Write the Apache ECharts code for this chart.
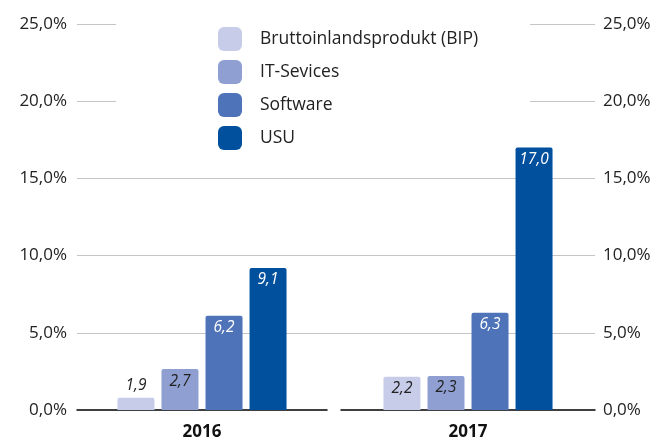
<!DOCTYPE html>
<html>
<head>
<meta charset="utf-8">
<script src="https://cdn.jsdelivr.net/npm/echarts@6/dist/echarts.min.js"></script>
<style>
  html, body { margin: 0; padding: 0; background: #fff; }
  #main { width: 654px; height: 445px; }
</style>
</head>
<body>
<div id="main"></div>
<script>
// Wachstum 2016 / 2017
var years = ['2016', '2017'];
var seriesNames = ['Bruttoinlandsprodukt (BIP)', 'IT-Sevices', 'Software', 'USU'];
// Balkenhoehen wie im Bild gezeichnet
var bip = [0.8, 2.15];
var itServices = [2.65, 2.2];
var software = [6.1, 6.3];
var usu = [9.2, 17.0];
// Beschriftungen wie im Bild
var bipLabels = [1.9, 2.2];
var itLabels = [2.7, 2.3];
var softwareLabels = [6.2, 6.3];
var usuLabels = [9.1, 17.0];
var yTicks = [0, 5, 10, 15, 20, 25];

var colors = ['#c7cce9', '#8f9fd1', '#4e73b9', '#00509e'];
var labelColors = ['#222', '#222', '#fff', '#fff'];
var values = [bip, itServices, software, usu];
var labels = [bipLabels, itLabels, softwareLabels, usuLabels];

var chart = echarts.init(document.getElementById('main'));

function fmt(v) {
  return v.toFixed(1).replace('.', ',');
}

var font = '"Open Sans", "Noto Sans", sans-serif';
var yMin = yTicks[0], yMax = yTicks[yTicks.length - 1], yStep = yTicks[1] - yTicks[0];

var series = [];
years.forEach(function (y, i) {
  seriesNames.forEach(function (name, k) {
    var v = values[k][i];
    var txt = fmt(labels[k][i]);
    series.push({
      name: name,
      type: 'bar',
      z: 10,
      xAxisIndex: i + 1,
      yAxisIndex: i + 2,
      barWidth: 37,
      barGap: '19%',
      itemStyle: { color: colors[k], borderRadius: [2, 2, 0, 0] },
      label: {
        show: true,
        // kurze Balken: Wert oberhalb
        position: v < 1.5 ? 'top' : 'insideTop',
        distance: 4,
        color: labelColors[k],
        fontStyle: 'italic',
        fontSize: 15.5,
        fontFamily: font,
        formatter: function () { return txt; }
      },
      data: [v]
    });
  });
});

var option = {
  backgroundColor: '#fff',
  animation: false,
  legend: {
    orient: 'vertical',
    left: 116,
    top: 17,
    padding: [10, 52, 4, 102],
    backgroundColor: '#fff',
    itemWidth: 24,
    itemHeight: 24,
    itemGap: 9,
    icon: 'roundRect',
    data: seriesNames,
    textStyle: { fontSize: 17.5, color: '#222', fontFamily: font, padding: [6, 0, 0, 13] }
  },
  grid: [
    { left: 77, right: 59, top: 24, bottom: 35 },
    { left: 77, right: 327, top: 24, bottom: 35 },
    { left: 341, right: 59, top: 24, bottom: 35 }
  ],
  xAxis: [
    { type: 'category', gridIndex: 0, data: [''], show: false },
    {
      type: 'category', gridIndex: 1, data: [years[0]],
      axisLine: { lineStyle: { color: '#000', width: 1.5 } },
      axisTick: { show: false },
      axisLabel: { color: '#111', fontWeight: 'bold', fontSize: 17, fontFamily: font, margin: 14 }
    },
    {
      type: 'category', gridIndex: 2, data: [years[1]],
      axisLine: { lineStyle: { color: '#000', width: 1.5 } },
      axisTick: { show: false },
      axisLabel: { color: '#111', fontWeight: 'bold', fontSize: 17, fontFamily: font, margin: 14 }
    }
  ],
  yAxis: [
    {
      type: 'value', gridIndex: 0, position: 'left',
      min: yMin, max: yMax, interval: yStep,
      axisLine: { show: false }, axisTick: { show: false },
      axisLabel: { color: '#222', fontSize: 17, fontFamily: font, margin: 10, formatter: function (v) { return fmt(v) + '%'; } },
      splitLine: { lineStyle: { color: ['rgba(0,0,0,0)', '#c4c4c4', '#c4c4c4', '#c4c4c4', '#c4c4c4', '#c4c4c4'], width: 1 } }
    },
    {
      type: 'value', gridIndex: 0, position: 'right',
      min: yMin, max: yMax, interval: yStep,
      axisLine: { show: false }, axisTick: { show: false },
      axisLabel: { color: '#222', fontSize: 17, fontFamily: font, margin: 8, formatter: function (v) { return fmt(v) + '%'; } },
      splitLine: { show: false }
    },
    { type: 'value', gridIndex: 1, min: yMin, max: yMax, show: false },
    { type: 'value', gridIndex: 2, min: yMin, max: yMax, show: false }
  ],
  series: series
};

chart.setOption(option);
</script>
</body>
</html>
